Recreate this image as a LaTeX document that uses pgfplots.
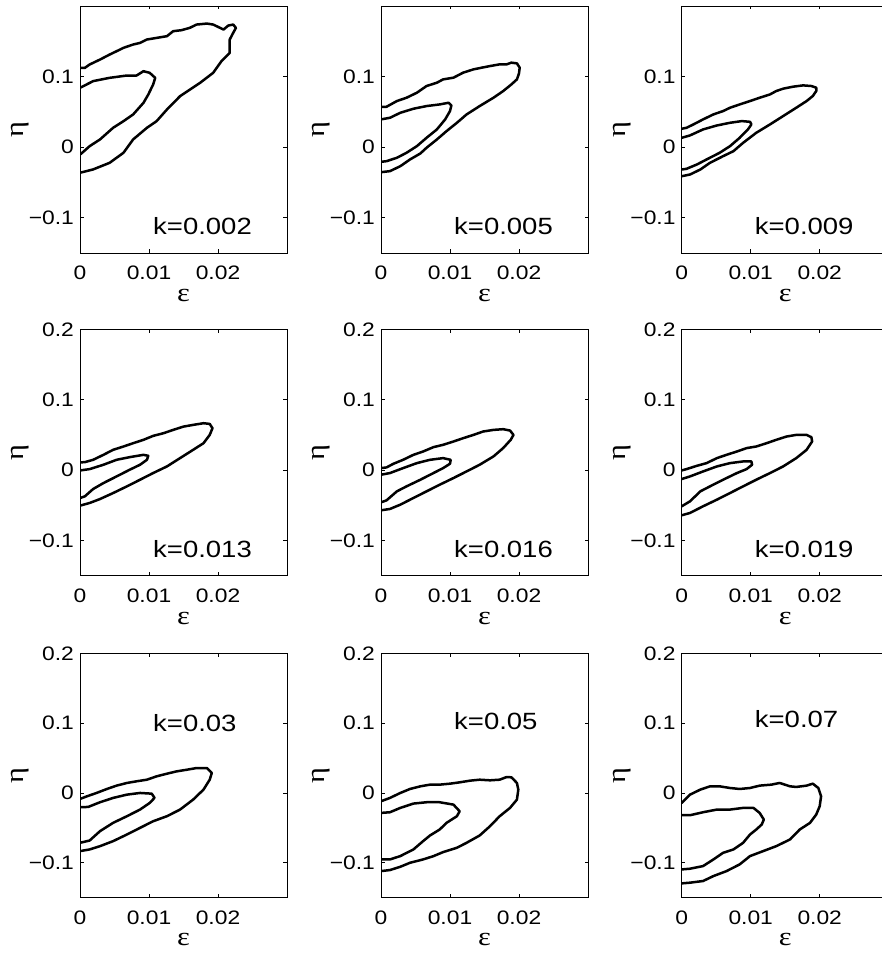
\documentclass[border=0pt]{standalone}
\usepackage{fontspec}
\setmainfont{Liberation Sans}[FakeStretch=1.17]
\newfontfamily\grkfont{Liberation Serif}[FakeStretch=1.17]
\usepackage{pgfplots}
\pgfplotsset{compat=1.18}
\newcommand\tickfont{\fontsize{19.5}{22}\selectfont}
\newcommand\kfont{\fontsize{23.5}{26}\selectfont}
\newcommand\labfont{\grkfont\fontsize{26}{30}\selectfont}
\pgfplotsset{
  panel/.style={
    scale only axis, anchor=south west,
    width=207pt,
    xmin=0, xmax=0.03, ymin=-0.15, ymax=0.2,
    xtick={0,0.01,0.02}, xticklabels={0,0.01,0.02},
    ytick={-0.1,0,0.1,0.2}, yticklabels={−0.1,0,0.1,0.2},
    scaled ticks=false,
    tick align=inside, major tick length=3.5pt,
    axis line style={line width=0.8pt},
    every tick/.style={black, line width=0.8pt},
    xticklabel style={font=\tickfont, anchor=north, inner sep=0pt, yshift=-13pt},
    yticklabel style={font=\tickfont, anchor=east, inner sep=0pt, xshift=-6pt},
    xlabel={ε}, ylabel={η},
    xlabel style={font=\labfont, at={(axis description cs:0.5,-0.172)}, anchor=center},
    ylabel style={font=\labfont, at={(axis description cs:-0.29,0.5)}, anchor=center},
    cycle list={{black, solid}},
    every axis plot post/.append style={black, line width=2.5pt, line join=round, line cap=round, no markers},
  },
  toprow/.style={ytick={-0.1,0,0.1}, yticklabels={−0.1,0,0.1}},
}
\begin{document}
\begin{tikzpicture}
% ---------- Row 1 ----------
\begin{axis}[panel, toprow, height=247pt, at={(80pt,700pt)}]
\addplot coordinates {(0,-0.0363) (0.0019,-0.0316) (0.0043,-0.0222) (0.0063,-0.0080) (0.0077,0.0109) (0.0097,0.0274) (0.0111,0.0368) (0.0126,0.0533) (0.0145,0.0722) (0.0174,0.0911) (0.0193,0.1053) (0.0205,0.1218) (0.0217,0.1336) (0.0217,0.1525) (0.0222,0.1619) (0.0226,0.1690) (0.0222,0.1737) (0.0215,0.1723) (0.0208,0.1666) (0.0203,0.1690) (0.0193,0.1737) (0.0184,0.1751) (0.0169,0.1737) (0.0159,0.1690) (0.0147,0.1657) (0.0135,0.1643) (0.0126,0.1572) (0.0111,0.1548) (0.0097,0.1525) (0.0087,0.1477) (0.0077,0.1454) (0.0063,0.1407) (0.0053,0.1359) (0.0043,0.1312) (0.0029,0.1241) (0.0014,0.1171) (0.0007,0.1123) (0,0.1123)};
\addplot coordinates {(0,0.0840) (0.0019,0.0935) (0.0043,0.0982) (0.0068,0.1015) (0.0082,0.1015) (0.0092,0.1076) (0.0101,0.1053) (0.0109,0.0982) (0.0106,0.0887) (0.0099,0.0746) (0.0092,0.0628) (0.0077,0.0463) (0.0063,0.0368) (0.0048,0.0274) (0.0029,0.0109) (0.0014,0.0014) (0.0002,-0.0090) (0,-0.0104)};
\node[anchor=west, font=\kfont] at (axis cs:0.0101,-0.112) {k=0.002};
\end{axis}
\begin{axis}[panel, toprow, height=247pt, at={(381pt,700pt)}]
\addplot coordinates {(0,-0.0355) (0.0013,-0.0340) (0.0028,-0.0270) (0.0042,-0.0175) (0.0057,-0.0090) (0.0066,-0.0009) (0.0081,0.0109) (0.0095,0.0227) (0.0110,0.0345) (0.0124,0.0463) (0.0143,0.0582) (0.0163,0.0700) (0.0177,0.0794) (0.0189,0.0889) (0.0197,0.0960) (0.0200,0.1045) (0.0201,0.1126) (0.0197,0.1187) (0.0189,0.1197) (0.0182,0.1173) (0.0172,0.1173) (0.0158,0.1149) (0.0146,0.1126) (0.0134,0.1102) (0.0119,0.1055) (0.0105,0.0984) (0.0090,0.0960) (0.0081,0.0913) (0.0066,0.0866) (0.0052,0.0771) (0.0037,0.0700) (0.0023,0.0653) (0.0008,0.0572) (0,0.0572)};
\addplot coordinates {(0,0.0393) (0.0013,0.0416) (0.0028,0.0487) (0.0047,0.0544) (0.0066,0.0582) (0.0085,0.0605) (0.0098,0.0629) (0.0102,0.0591) (0.0100,0.0511) (0.0093,0.0393) (0.0081,0.0251) (0.0066,0.0132) (0.0052,0.0014) (0.0037,-0.0080) (0.0023,-0.0151) (0.0008,-0.0199) (0,-0.0208)};
\node[anchor=west, font=\kfont] at (axis cs:0.0101,-0.112) {k=0.005};
\end{axis}
\begin{axis}[panel, toprow, height=247pt, at={(681.7pt,700pt)}]
\addplot coordinates {(0,-0.0412) (0.0012,-0.0388) (0.0027,-0.0317) (0.0041,-0.0222) (0.0060,-0.0128) (0.0075,-0.0057) (0.0089,0.0061) (0.0108,0.0203) (0.0128,0.0322) (0.0147,0.0440) (0.0166,0.0558) (0.0181,0.0653) (0.0190,0.0724) (0.0195,0.0795) (0.0195,0.0842) (0.0188,0.0866) (0.0176,0.0875) (0.0161,0.0856) (0.0147,0.0828) (0.0137,0.0795) (0.0128,0.0747) (0.0113,0.0700) (0.0099,0.0653) (0.0084,0.0605) (0.0070,0.0558) (0.0060,0.0511) (0.0046,0.0464) (0.0031,0.0393) (0.0017,0.0322) (0.0007,0.0274) (0,0.0260)};
\addplot coordinates {(0,0.0132) (0.0012,0.0166) (0.0031,0.0251) (0.0051,0.0307) (0.0070,0.0345) (0.0087,0.0369) (0.0099,0.0359) (0.0101,0.0322) (0.0096,0.0251) (0.0084,0.0132) (0.0070,0.0014) (0.0055,-0.0080) (0.0036,-0.0175) (0.0022,-0.0246) (0.0007,-0.0307) (0,-0.0317)};
\node[anchor=west, font=\kfont] at (axis cs:0.0101,-0.112) {k=0.009};
\end{axis}
% ---------- Row 2 ----------
\begin{axis}[panel, height=246.4pt, at={(80pt,377.3pt)}]
\addplot coordinates {(0,-0.0505) (0.0014,-0.0467) (0.0029,-0.0411) (0.0048,-0.0326) (0.0068,-0.0231) (0.0087,-0.0137) (0.0106,-0.0042) (0.0126,0.0052) (0.0145,0.0170) (0.0164,0.0288) (0.0179,0.0382) (0.0188,0.0500) (0.0192,0.0595) (0.0188,0.0656) (0.0179,0.0666) (0.0164,0.0642) (0.0150,0.0618) (0.0135,0.0571) (0.0121,0.0524) (0.0106,0.0486) (0.0092,0.0430) (0.0077,0.0382) (0.0063,0.0335) (0.0048,0.0288) (0.0034,0.0217) (0.0019,0.0146) (0.0007,0.0113) (0,0.0109)};
\addplot coordinates {(0,-0.0005) (0.0014,0.0014) (0.0034,0.0076) (0.0053,0.0146) (0.0072,0.0184) (0.0092,0.0217) (0.0099,0.0203) (0.0097,0.0146) (0.0087,0.0076) (0.0072,0.0005) (0.0053,-0.0090) (0.0034,-0.0184) (0.0019,-0.0269) (0.0007,-0.0373) (0,-0.0397)};
\node[anchor=west, font=\kfont] at (axis cs:0.0101,-0.1127) {k=0.013};
\end{axis}
\begin{axis}[panel, height=246.4pt, at={(381pt,377.3pt)}]
\addplot coordinates {(0,-0.0571) (0.0013,-0.0552) (0.0028,-0.0491) (0.0047,-0.0396) (0.0066,-0.0302) (0.0085,-0.0208) (0.0105,-0.0113) (0.0124,-0.0019) (0.0143,0.0076) (0.0163,0.0194) (0.0177,0.0312) (0.0188,0.0430) (0.0192,0.0500) (0.0187,0.0562) (0.0177,0.0581) (0.0163,0.0571) (0.0148,0.0548) (0.0134,0.0500) (0.0119,0.0453) (0.0105,0.0406) (0.0090,0.0359) (0.0076,0.0326) (0.0061,0.0264) (0.0047,0.0217) (0.0032,0.0146) (0.0018,0.0090) (0.0008,0.0038) (0,0.0028)};
\addplot coordinates {(0,-0.0066) (0.0013,-0.0042) (0.0032,0.0028) (0.0052,0.0099) (0.0071,0.0146) (0.0090,0.0170) (0.0101,0.0146) (0.0100,0.0090) (0.0090,0.0028) (0.0076,-0.0042) (0.0057,-0.0137) (0.0037,-0.0231) (0.0023,-0.0302) (0.0008,-0.0430) (0,-0.0458)};
\node[anchor=west, font=\kfont] at (axis cs:0.0101,-0.1127) {k=0.016};
\end{axis}
\begin{axis}[panel, height=246.4pt, at={(681.7pt,377.3pt)}]
\addplot coordinates {(0,-0.0642) (0.0012,-0.0609) (0.0031,-0.0514) (0.0051,-0.0420) (0.0070,-0.0326) (0.0089,-0.0231) (0.0108,-0.0137) (0.0128,-0.0042) (0.0147,0.0052) (0.0166,0.0170) (0.0181,0.0288) (0.0189,0.0406) (0.0188,0.0467) (0.0181,0.0500) (0.0166,0.0500) (0.0152,0.0477) (0.0137,0.0430) (0.0123,0.0382) (0.0108,0.0335) (0.0094,0.0312) (0.0080,0.0264) (0.0065,0.0217) (0.0051,0.0170) (0.0036,0.0099) (0.0022,0.0061) (0.0007,0.0014) (0,-0.0005)};
\addplot coordinates {(0,-0.0127) (0.0012,-0.0090) (0.0031,-0.0019) (0.0051,0.0052) (0.0070,0.0099) (0.0089,0.0123) (0.0101,0.0123) (0.0102,0.0076) (0.0094,0.0014) (0.0080,-0.0042) (0.0060,-0.0137) (0.0041,-0.0231) (0.0027,-0.0302) (0.0012,-0.0444) (0,-0.0514)};
\node[anchor=west, font=\kfont] at (axis cs:0.0101,-0.1127) {k=0.019};
\end{axis}
% ---------- Row 3 ----------
\begin{axis}[panel, height=244.4pt, at={(80pt,55.3pt)}]
\addplot coordinates {(0,-0.0833) (0.0014,-0.0809) (0.0029,-0.0762) (0.0048,-0.0690) (0.0068,-0.0595) (0.0087,-0.0500) (0.0106,-0.0405) (0.0126,-0.0333) (0.0145,-0.0238) (0.0164,-0.0095) (0.0179,0.0048) (0.0188,0.0190) (0.0191,0.0286) (0.0184,0.0357) (0.0169,0.0357) (0.0155,0.0333) (0.0140,0.0309) (0.0126,0.0276) (0.0111,0.0238) (0.0097,0.0190) (0.0082,0.0167) (0.0068,0.0143) (0.0053,0.0105) (0.0039,0.0057) (0.0024,0.0000) (0.0010,-0.0048) (0,-0.0086)};
\addplot coordinates {(0,-0.0205) (0.0012,-0.0200) (0.0029,-0.0133) (0.0048,-0.0071) (0.0068,-0.0024) (0.0087,0.0000) (0.0104,-0.0010) (0.0108,-0.0071) (0.0101,-0.0143) (0.0087,-0.0238) (0.0068,-0.0333) (0.0048,-0.0428) (0.0029,-0.0547) (0.0014,-0.0681) (0,-0.0714)};
\node[anchor=west, font=\kfont] at (axis cs:0.0101,0.100) {k=0.03};
\end{axis}
\begin{axis}[panel, height=244.4pt, at={(381pt,55.3pt)}]
\addplot coordinates {(0,-0.1119) (0.0013,-0.1104) (0.0028,-0.1057) (0.0042,-0.1000) (0.0061,-0.0952) (0.0076,-0.0905) (0.0090,-0.0847) (0.0110,-0.0785) (0.0124,-0.0714) (0.0143,-0.0609) (0.0158,-0.0476) (0.0172,-0.0333) (0.0187,-0.0214) (0.0197,-0.0095) (0.0199,0.0048) (0.0197,0.0143) (0.0189,0.0224) (0.0182,0.0228) (0.0172,0.0190) (0.0158,0.0181) (0.0143,0.0190) (0.0129,0.0176) (0.0114,0.0152) (0.0100,0.0133) (0.0085,0.0119) (0.0071,0.0119) (0.0057,0.0095) (0.0042,0.0057) (0.0028,0.0000) (0.0013,-0.0071) (0,-0.0119)};
\addplot coordinates {(0,-0.0286) (0.0013,-0.0276) (0.0028,-0.0214) (0.0047,-0.0152) (0.0066,-0.0133) (0.0085,-0.0133) (0.0105,-0.0167) (0.0114,-0.0262) (0.0110,-0.0333) (0.0095,-0.0428) (0.0085,-0.0524) (0.0071,-0.0609) (0.0061,-0.0690) (0.0047,-0.0809) (0.0028,-0.0904) (0.0013,-0.0952) (0,-0.0952)};
\node[anchor=west, font=\kfont] at (axis cs:0.0101,0.1024) {k=0.05};
\end{axis}
\begin{axis}[panel, height=244.4pt, at={(681.7pt,55.3pt)}]
\addplot coordinates {(0,-0.1295) (0.0012,-0.1285) (0.0031,-0.1261) (0.0046,-0.1190) (0.0065,-0.1119) (0.0084,-0.1023) (0.0099,-0.0904) (0.0118,-0.0833) (0.0137,-0.0762) (0.0157,-0.0666) (0.0171,-0.0524) (0.0186,-0.0428) (0.0195,-0.0309) (0.0200,-0.0190) (0.0202,-0.0048) (0.0198,0.0071) (0.0190,0.0133) (0.0181,0.0105) (0.0166,0.0086) (0.0157,0.0095) (0.0142,0.0143) (0.0130,0.0119) (0.0113,0.0105) (0.0099,0.0071) (0.0084,0.0057) (0.0070,0.0071) (0.0055,0.0095) (0.0041,0.0095) (0.0027,0.0048) (0.0012,-0.0024) (0,-0.0143)};
\addplot coordinates {(0,-0.0319) (0.0012,-0.0319) (0.0031,-0.0276) (0.0051,-0.0238) (0.0070,-0.0238) (0.0089,-0.0214) (0.0104,-0.0214) (0.0113,-0.0286) (0.0119,-0.0381) (0.0116,-0.0452) (0.0108,-0.0524) (0.0099,-0.0595) (0.0089,-0.0714) (0.0075,-0.0809) (0.0060,-0.0857) (0.0046,-0.0952) (0.0031,-0.1047) (0.0012,-0.1085) (0,-0.1095)};
\node[anchor=west, font=\kfont] at (axis cs:0.0101,0.1057) {k=0.07};
\end{axis}
\pgfresetboundingbox
\useasboundingbox (0pt,0pt) rectangle (881pt,953pt);
\end{tikzpicture}
\end{document}
